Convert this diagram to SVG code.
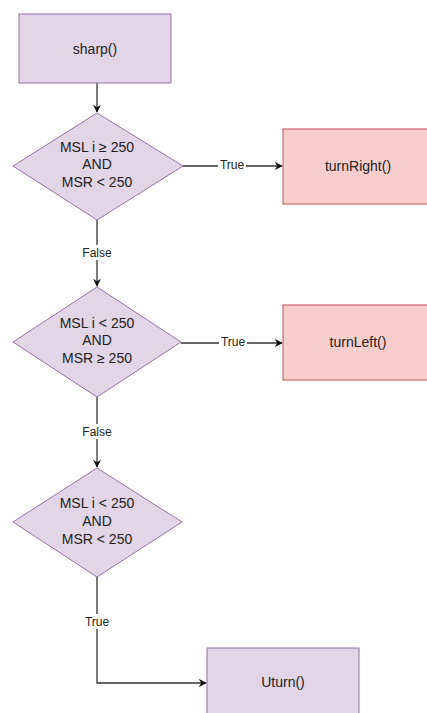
<svg xmlns="http://www.w3.org/2000/svg" width="427" height="713" viewBox="0 0 427 713">
<style>
.p{fill:#e1d5e7;stroke:#9673a6;stroke-width:1}
.r{fill:#f8cecc;stroke:#b85450;stroke-width:1}
.t{font-family:"Liberation Sans",Arial,sans-serif;font-size:14px;fill:#222;text-anchor:middle;dominant-baseline:central}
.l{font-family:"Liberation Sans",Arial,sans-serif;font-size:12px;fill:#222;text-anchor:middle;dominant-baseline:central}
.c{fill:none;stroke:#333;stroke-width:1.3}
.bg{fill:#fff}
</style>
<defs>
<marker id="a" viewBox="0 0 10 10" refX="9" refY="5" markerWidth="8" markerHeight="8" orient="auto" markerUnits="userSpaceOnUse">
<path d="M0,0 L10,5 L0,10 L3,5 Z" fill="#111"/>
</marker>
</defs>
<rect width="427" height="713" fill="#fff"/>
<g id="connectors">
<path class="c" d="M97,83 V112" marker-end="url(#a)"/>
<path class="c" d="M183,166 H282" marker-end="url(#a)"/>
<rect class="bg" x="218" y="158" width="28" height="15"/>
<text class="l" x="232" y="165">True</text>
<path class="c" d="M97,220 V286" marker-end="url(#a)"/>
<rect class="bg" x="80" y="245" width="34" height="15"/>
<text class="l" x="97" y="253">False</text>
<path class="c" d="M181,343 H282" marker-end="url(#a)"/>
<rect class="bg" x="219" y="335" width="28" height="15"/>
<text class="l" x="233" y="342">True</text>
<path class="c" d="M97,397 V467" marker-end="url(#a)"/>
<rect class="bg" x="80" y="424" width="34" height="15"/>
<text class="l" x="97" y="432">False</text>
<path class="c" d="M97,577 V683 H206" marker-end="url(#a)"/>
<rect class="bg" x="83" y="614" width="28" height="15"/>
<text class="l" x="97" y="622">True</text>
</g>
<g id="sharp">
<rect class="p" x="19" y="14" width="152" height="69"/>
<text class="t" x="95" y="49">sharp()</text>
</g>
<g id="cond1">
<path class="p" d="M97,113 L183,166 L97,220 L13,166 Z"/>
<text class="t" x="97" y="147">MSL i ≥ 250</text>
<text class="t" x="97" y="164">AND</text>
<text class="t" x="97" y="182">MSR &lt; 250</text>
</g>
<g id="turnRight">
<rect class="r" x="283" y="129" width="150" height="75"/>
<text class="t" x="358" y="166">turnRight()</text>
</g>
<g id="cond2">
<path class="p" d="M97,287 L181,342 L97,397 L13,342 Z"/>
<text class="t" x="97" y="323">MSL i &lt; 250</text>
<text class="t" x="97" y="340">AND</text>
<text class="t" x="97" y="358">MSR ≥ 250</text>
</g>
<g id="turnLeft">
<rect class="r" x="283" y="305" width="150" height="75"/>
<text class="t" x="358" y="342">turnLeft()</text>
</g>
<g id="cond3">
<path class="p" d="M97,468 L182,522 L97,577 L13,522 Z"/>
<text class="t" x="97" y="503">MSL i &lt; 250</text>
<text class="t" x="97" y="521">AND</text>
<text class="t" x="97" y="539">MSR &lt; 250</text>
</g>
<g id="uturn">
<rect class="p" x="207" y="648" width="152" height="70"/>
<text class="t" x="283" y="682">Uturn()</text>
</g>
</svg>
